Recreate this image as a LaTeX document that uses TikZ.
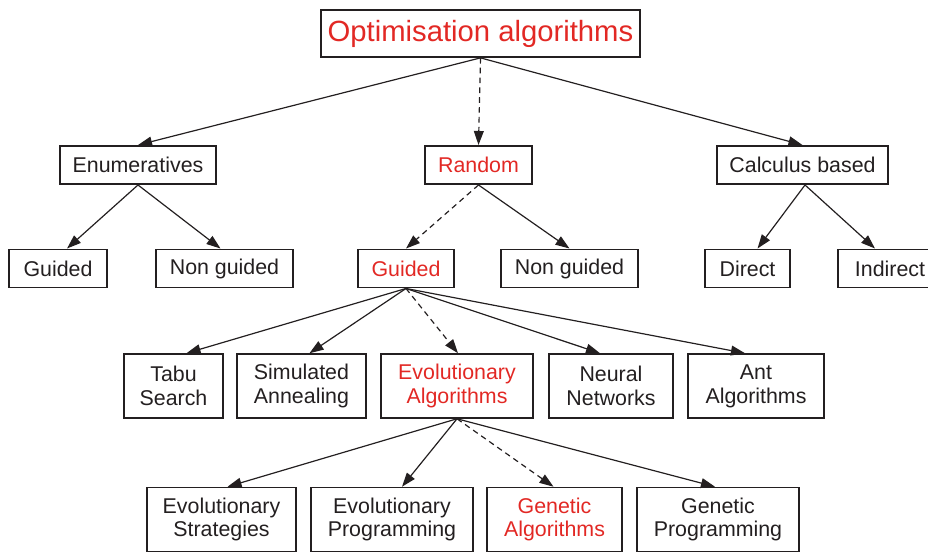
\documentclass[tikz,border=0pt]{standalone}
\usepackage{fontspec}
\setmainfont{Liberation Sans}
\usetikzlibrary{arrows.meta,calc}

\definecolor{inkred}{RGB}{226,40,36}
\definecolor{inkblack}{RGB}{35,31,32}

\tikzset{
	box/.style={draw=inkblack, line width=1.1pt, inner sep=0pt, align=center,
		text=inkblack, font=\fontsize{15.2}{17}\selectfont},
	hl/.style={text=inkred},
	low/.style={minimum height=0.96cm},
	tall/.style={minimum height=1.6cm},
}

\begin{document}
\begin{tikzpicture}[x=0.025cm, y=-0.025cm, line width=0.85pt, draw=inkblack,
	arrows={-Triangle[length=10pt,width=7pt]}]
	\useasboundingbox (0,0) rectangle (928,552);

	\node [box, hl, minimum width=7.98cm, minimum height=1.18cm,
		font=\fontsize{20.8}{24}\selectfont] (OA) at (480.5,33.5) {Optimisation algorithms};

	\node [box, low, minimum width=3.9cm]      (EN) at (138,165)   {Enumeratives};
	\node [box, low, hl, minimum width=2.68cm] (RA) at (478.5,165) {Random};
	\node [box, low, minimum width=4.28cm]     (CB) at (802.5,165) {Calculus based};

	\node [box, low, minimum width=2.45cm]     (ENG) at (58,268.5)    {Guided};
	\node [box, low, minimum width=3.43cm]     (ENN) at (224.5,268.5) {Non guided};
	\node [box, low, hl, minimum width=2.4cm]  (RAG) at (406,268.5)   {Guided};
	\node [box, low, minimum width=3.43cm]     (RAN) at (569.5,268.5) {Non guided};
	\node [box, low, minimum width=2.13cm]     (CBD) at (747.5,268.5) {Direct};
	\node [box, low, minimum width=2.6cm]      (CBI) at (890,268.5)   {Indirect};

	\node [box, tall, minimum width=2.48cm]    (TS) at (173.5,386) {Tabu\\Search};
	\node [box, tall, minimum width=3.23cm]    (SA) at (301.5,386) {Simulated\\Annealing};
	\node [box, tall, hl, minimum width=3.8cm] (EA) at (457,386)   {Evolutionary\\Algorithms};
	\node [box, tall, minimum width=3.1cm]     (NN) at (611,386)   {Neural\\Networks};
	\node [box, tall, minimum width=3.4cm]     (AA) at (756,386)   {Ant\\Algorithms};

	\node [box, tall, minimum width=3.73cm]     (ES) at (221.5,519.5) {Evolutionary\\Strategies};
	\node [box, tall, minimum width=4.05cm]     (EP) at (392,519.5)   {Evolutionary\\Programming};
	\node [box, tall, hl, minimum width=3.38cm] (GA) at (554.5,519.5) {Genetic\\Algorithms};
	\node [box, tall, minimum width=4.05cm]     (GP) at (718,519.5)   {Genetic\\Programming};

	% first level
	\draw (OA.south) to (EN.north);
	\draw [dashed, dash pattern=on 4pt off 3pt] (OA.south) to (RA.north);
	\draw (OA.south) to (CB.north);

	% second level
	\draw (EN.south) to ($(ENG.north)+(9,0)$);
	\draw (EN.south) to ($(ENN.north)+(-4,0)$);
	\draw [dashed, dash pattern=on 4pt off 3pt] (RA.south) to (RAG.north);
	\draw (RA.south) to (RAN.north);
	\draw ($(CB.south)+(2.5,0)$) to ($(CBD.north)+(10,0)$);
	\draw ($(CB.south)+(2.5,0)$) to ($(CBI.north)+(-15,0)$);

	% third level
	\draw (RAG.south) to ($(TS.north)+(13,0)$);
	\draw (RAG.south) to ($(SA.north)+(8,0)$);
	\draw [dashed, dash pattern=on 4pt off 3pt] (RAG.south) to ($(EA.north)+(1,0)$);
	\draw (RAG.south) to ($(NN.north)+(-11,0)$);
	\draw (RAG.south) to ($(AA.north)+(-11,0)$);

	% fourth level
	\draw (EA.south) to ($(ES.north)+(6,0)$);
	\draw (EA.south) to ($(EP.north)+(10,0)$);
	\draw [dashed, dash pattern=on 4pt off 3pt] (EA.south) to ($(GA.north)+(-1,0)$);
	\draw (EA.south) to ($(GP.north)+(-3,0)$);
\end{tikzpicture}
\end{document}
